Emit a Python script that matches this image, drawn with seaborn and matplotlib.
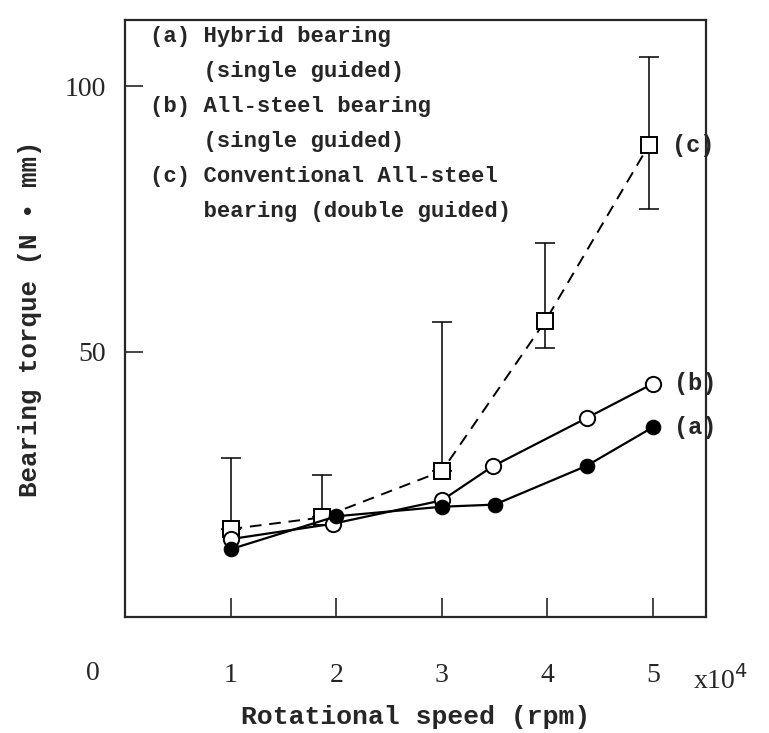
import numpy as np
import seaborn as sns
import matplotlib
matplotlib.use("Agg")
import matplotlib.pyplot as plt

# data (speed in x10^4 rpm, torque in N*mm)
speed_a = [1.0, 2.0, 3.0, 3.5, 4.37, 5.0]
torque_a = [12.8, 19.0, 20.8, 21.2, 28.5, 35.8]

speed_b = [1.0, 1.97, 3.0, 3.48, 4.37, 5.0]
torque_b = [14.7, 17.6, 22.0, 28.4, 37.5, 44.0]

speed_c = [1.0, 1.87, 3.0, 3.98, 4.96]
torque_c = [16.6, 18.8, 27.5, 55.8, 88.9]
err_c_low = [0.0, 0.0, 0.0, 5.2, 12.1]
err_c_high = [13.4, 8.0, 28.0, 14.6, 16.6]

xticks = [1, 2, 3, 4, 5]
yticks = [50, 100]

legend_text = ("(a) Hybrid bearing\n"
               "    (single guided)\n"
               "(b) All-steel bearing\n"
               "    (single guided)\n"
               "(c) Conventional All-steel\n"
               "    bearing (double guided)")

sns.set_style("ticks")
mono = "Liberation Mono"
serif = "Liberation Serif"

fig = plt.figure(figsize=(7.69, 7.33), dpi=100)
ax = fig.add_axes([0.1625, 0.158, 0.7555, 0.815])

# error bars of curve (c)
ax.errorbar(speed_c, torque_c, yerr=[err_c_low, err_c_high], fmt="none",
            ecolor="black", elinewidth=1.1, capsize=7, capthick=1.1, zorder=2)

sns.lineplot(x=speed_c, y=torque_c, ax=ax, color="black", linewidth=1.4,
             linestyle=(0, (6, 4)), marker="s", markersize=12,
             markerfacecolor="white", markeredgecolor="black",
             markeredgewidth=1.4, zorder=3)
sns.lineplot(x=speed_b, y=torque_b, ax=ax, color="black", linewidth=1.6,
             marker="o", markersize=11, markerfacecolor="white",
             markeredgecolor="black", markeredgewidth=1.4, zorder=4)
sns.lineplot(x=speed_a, y=torque_a, ax=ax, color="black", linewidth=1.6,
             marker="o", markersize=10.5, markerfacecolor="black",
             markeredgecolor="black", zorder=5)

ax.set_xlim(0, 5.5)
ax.set_ylim(0, 112.5)
ax.set_xticks(xticks)
ax.set_xticklabels([str(t) for t in xticks], fontfamily=serif, fontsize=20)
ax.set_yticks(yticks)
ax.set_yticklabels([str(t) for t in yticks], fontfamily=serif, fontsize=20)
ax.tick_params(axis="x", direction="in", length=14, width=1.2, pad=33)
ax.tick_params(axis="y", direction="in", length=13, width=1.2, pad=14)
for sp in ax.spines.values():
    sp.set_linewidth(1.6)
    sp.set_visible(True)

ax.text(-0.3, -0.094, "0", transform=ax.get_xaxis_transform(),
        ha="center", va="center", fontfamily=serif, fontsize=20, clip_on=False)
ax.text(5.38, -0.105, "x10$^4$", transform=ax.get_xaxis_transform(),
        ha="left", va="center", fontfamily=serif, fontsize=20, clip_on=False)

ax.set_xlabel("Rotational speed (rpm)", fontfamily=mono, fontsize=19,
              fontweight="bold", labelpad=12)
ax.set_ylabel("Bearing torque (N • mm)", fontfamily=mono, fontsize=18.5,
              fontweight="bold", labelpad=16)

ax.text(0.043, 0.99, legend_text, transform=ax.transAxes, ha="left", va="top",
        fontfamily=mono, fontsize=16, fontweight="bold", linespacing=1.88)

ax.text(5.18, torque_c[-1], "(c)", ha="left", va="center", fontfamily=mono,
        fontsize=17, fontweight="bold")
ax.text(5.2, torque_b[-1], "(b)", ha="left", va="center", fontfamily=mono,
        fontsize=17, fontweight="bold")
ax.text(5.2, torque_a[-1], "(a)", ha="left", va="center", fontfamily=mono,
        fontsize=17, fontweight="bold")

fig.savefig("out.png", dpi=100)
